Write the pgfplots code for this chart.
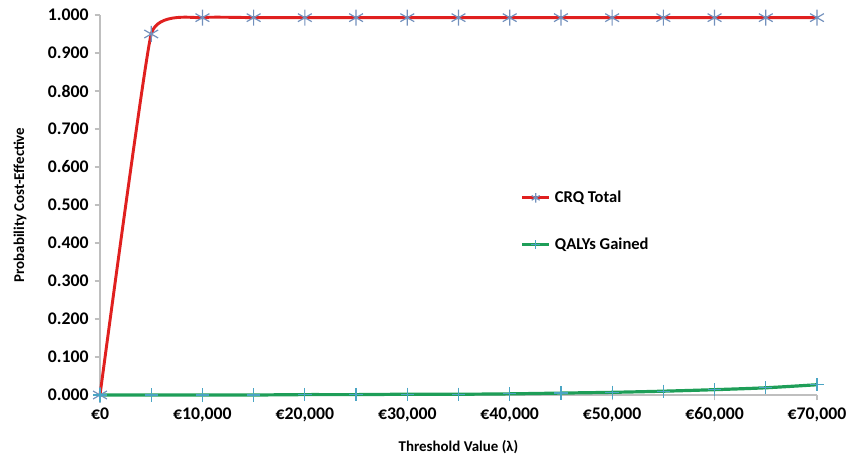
\documentclass[border=0pt]{standalone}
\usepackage{pgfplots}
\pgfplotsset{compat=1.18}
\usepackage{fontspec}
\setmainfont{Carlito}

\definecolor{crqred}{HTML}{E0201F}
\definecolor{qalygreen}{HTML}{1E9E58}
\definecolor{starblue}{HTML}{7391BD}
\definecolor{plusblue}{HTML}{4AA5C4}
\definecolor{axisgray}{HTML}{BFBFBF}

\def\px{0.75pt}

\begin{document}
\begin{tikzpicture}[x=\px,y=\px]
\path[use as bounding box] (-100,-64) rectangle (757,395);
\begin{axis}[
    at={(0,0)}, anchor=south west,
    scale only axis,
    width=717*\px, height=380*\px,
    xmin=0, xmax=70000,
    ymin=0, ymax=1,
    axis lines*=left,
    axis line style={axisgray, line width=0.8pt},
    xtick={0,10000,...,70000},
    xticklabels={€0,€10{,}000,€20{,}000,€30{,}000,€40{,}000,€50{,}000,€60{,}000,€70{,}000},
    scaled x ticks=false,
    ytick={0,0.1,...,1.0},
    /pgf/number format/fixed,
    /pgf/number format/fixed zerofill,
    /pgf/number format/precision=3,
    /pgf/number format/assume math mode=true,
    scaled y ticks=false,
    tick style={axisgray, line width=0.8pt},
    tick align=outside,
    major tick length=4pt,
    ticklabel style={font=\fontsize{13.3}{15}\selectfont\bfseries, black},
    xticklabel style={yshift=-2pt},
    yticklabel style={xshift=-1pt},
    xlabel={Threshold Value (λ)},
    ylabel={Probability Cost-Effective},
    label style={font=\fontsize{11.2}{13}\selectfont\bfseries},
    xlabel style={at={(axis description cs:0.5,-0.137)}, anchor=center},
    ylabel style={at={(axis description cs:-0.1116,0.5)}, anchor=center},
    legend style={draw=none, fill=none, at={(axis description cs:0.586,0.457)}, anchor=west,
        font=\fontsize{12.4}{14}\selectfont\bfseries, row sep=21pt, inner sep=0pt,
        /tikz/every odd column/.append style={column sep=1pt}},
    legend cell align=left,
    legend image code/.code={
        \draw[#1, mark=none] (0cm,0cm) -- (0.72cm,0cm);
        \draw[#1, only marks, mark size=3.5pt] plot coordinates {(0.36cm,0cm)};
    },
    clip=false,
]
\addplot[crqred, line width=2.2pt, smooth, tension=0.22,
    mark=asterisk, mark size=6pt,
    mark options={starblue, line width=0.9pt, solid}]
coordinates {
    (0,0) (5000,0.950) (10000,0.993) (15000,0.993) (20000,0.993) (25000,0.993)
    (30000,0.993) (35000,0.993) (40000,0.993) (45000,0.993) (50000,0.993)
    (55000,0.993) (60000,0.993) (65000,0.993) (70000,0.993)
};
\addlegendentry{CRQ Total}

\addplot[qalygreen, line width=2.4pt, smooth,
    mark=+, mark size=5pt,
    mark options={plusblue, line width=0.9pt, solid}]
coordinates {
    (0,0) (5000,0) (10000,0) (15000,0) (20000,0.001) (25000,0.001)
    (30000,0.002) (35000,0.002) (40000,0.003) (45000,0.005) (50000,0.007)
    (55000,0.010) (60000,0.014) (65000,0.019) (70000,0.027)
};
\addlegendentry{QALYs Gained}
\end{axis}
\end{tikzpicture}
\end{document}
